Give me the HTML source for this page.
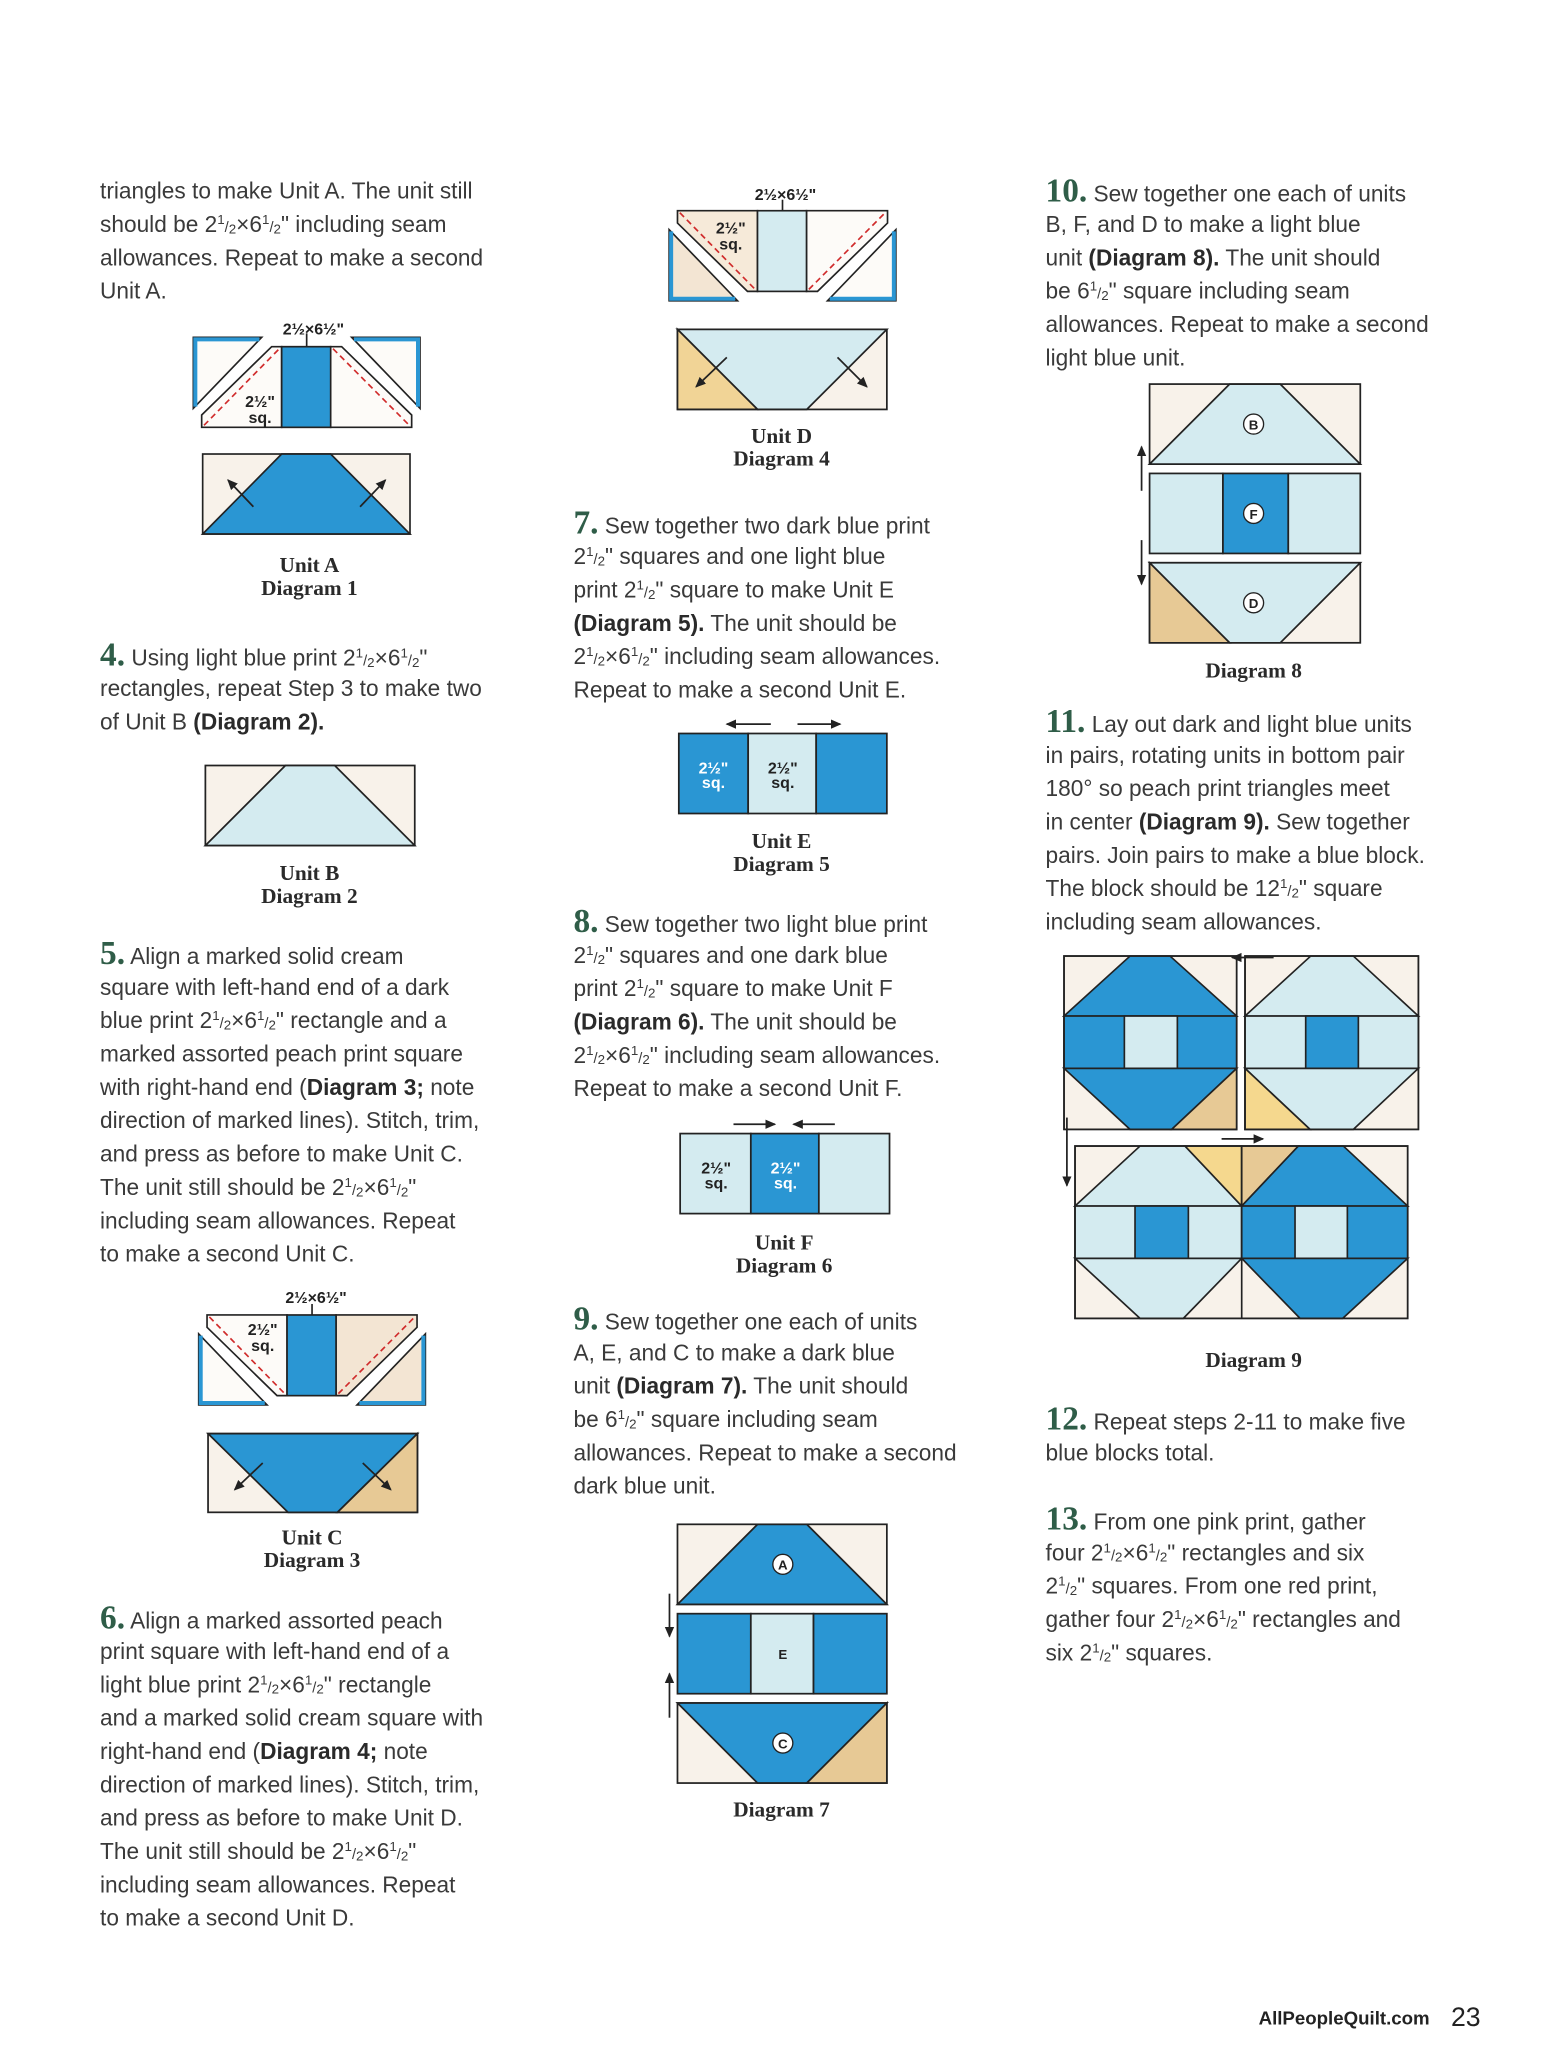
<!DOCTYPE html>
<html><head><meta charset="utf-8">
<style>
html,body{margin:0;padding:0;background:#fff;}
#wrap{position:relative;width:1551px;height:2068px;overflow:hidden;}
#pg{position:absolute;left:0;top:0;width:1163px;height:1551px;transform:scale(1.33362);transform-origin:0 0;}
.l{position:absolute;white-space:nowrap;font-family:"Liberation Sans",sans-serif;font-size:17px;line-height:25px;height:25px;color:#3a3a3a;}
.l b{color:#2a2a2a}
.n{font-family:"Liberation Serif",serif;font-weight:bold;font-size:25px;color:#2f5d48;}
.f{font-size:11px;position:relative;}
.f sup{font-size:10px;vertical-align:0;position:relative;top:-6px}
.f sub{font-size:10px;vertical-align:0;position:relative;top:1px}
svg{position:absolute;left:0;top:0}
.dl{font-family:"Liberation Serif",serif;font-weight:bold;font-size:16px;fill:#2a2a2a;text-anchor:middle}
.dm{font-family:"Liberation Sans",sans-serif;font-weight:bold;font-size:12px;fill:#222;text-anchor:middle}
</style></head><body><div id="wrap"><div id="pg">
<svg width="1163" height="1551" viewBox="0 0 1163 1551">
<defs><marker id="ah" markerWidth="8" markerHeight="8" refX="7" refY="4" orient="auto" markerUnits="userSpaceOnUse"><path d="M0,0.5 L8,4 L0,7.5z" fill="#222"/></marker></defs>
<g stroke="#222" stroke-width="1.3" stroke-linejoin="miter">
<!-- Diagram 1 -->
<g transform="translate(134.97,224.96) scale(0.24995)" stroke-width="5">
<polygon points="40,112 245,112 40,325" fill="#fdfbf8"/>
<polyline points="46,320 46,118 238,118" fill="none" stroke="#2a96d3" stroke-width="12"/>
<polygon points="515,112 720,112 720,325" fill="#fdfbf8"/>
<polyline points="522,118 714,118 714,320" fill="none" stroke="#2a96d3" stroke-width="12"/>
<polygon points="65,382 65,345 275,140 305,140 305,382" fill="#fdfbf8"/>
<polygon points="452,140 485,140 695,345 695,382 452,382" fill="#fdfbf8"/>
<rect x="305" y="140" width="147" height="242" fill="#2a96d3"/>
<line x1="72" y1="376" x2="298" y2="146" stroke="#d02b2b" stroke-dasharray="18,12"/>
<line x1="459" y1="146" x2="688" y2="376" stroke="#d02b2b" stroke-dasharray="18,12"/>
<line x1="380" y1="100" x2="380" y2="140"/>
<rect x="68" y="462" width="622" height="240" fill="#f8f2ea"/>
<polygon points="68,702 305,462 452,462 690,702" fill="#2a96d3"/>
</g>
<line x1="190" y1="380" x2="171" y2="360" marker-end="url(#ah)"/>
<line x1="270" y1="380" x2="289" y2="360" marker-end="url(#ah)"/>
<!-- Diagram 2 -->
<rect x="154" y="574" width="157" height="60" fill="#f8f2ea"/>
<polygon points="154,634 214,574 251,574 311,634" fill="#d4ebf0"/>
<!-- Diagram 3 -->
<g transform="translate(139,1081.5) scale(0.24995,-0.24995)" stroke-width="5">
<polygon points="40,112 245,112 40,325" fill="#fdfbf8"/>
<polyline points="46,320 46,118 238,118" fill="none" stroke="#2a96d3" stroke-width="12"/>
<polygon points="515,112 720,112 720,325" fill="#f3e5d3"/>
<polyline points="522,118 714,118 714,320" fill="none" stroke="#2a96d3" stroke-width="12"/>
<polygon points="65,382 65,345 275,140 305,140 305,382" fill="#fdfbf8"/>
<polygon points="452,140 485,140 695,345 695,382 452,382" fill="#f3e5d3"/>
<rect x="305" y="140" width="147" height="242" fill="#2a96d3"/>
<line x1="72" y1="376" x2="298" y2="146" stroke="#d02b2b" stroke-dasharray="18,12"/>
<line x1="459" y1="146" x2="688" y2="376" stroke="#d02b2b" stroke-dasharray="18,12"/>
<line x1="380" y1="382" x2="380" y2="415"/>
</g>
<rect x="156" y="1075" width="157" height="59" fill="#f8f2ea"/>
<polygon points="156,1075 313,1075 253,1134 216,1134" fill="#2a96d3"/>
<polygon points="253,1134 313,1134 313,1075" fill="#e7c995"/>
<line x1="197" y1="1097" x2="176" y2="1117" marker-end="url(#ah)"/>
<line x1="272" y1="1097" x2="293" y2="1117" marker-end="url(#ah)"/>
<!-- Diagram 4 -->
<g transform="translate(491.75,253.5) scale(0.25,-0.25)" stroke-width="5">
<polygon points="40,112 245,112 40,325" fill="#f3e5d3"/>
<polyline points="46,320 46,118 238,118" fill="none" stroke="#2a96d3" stroke-width="12"/>
<polygon points="515,112 720,112 720,325" fill="#fdfbf8"/>
<polyline points="522,118 714,118 714,320" fill="none" stroke="#2a96d3" stroke-width="12"/>
<polygon points="65,382 65,345 275,140 305,140 305,382" fill="#f6ead9"/>
<polygon points="452,140 485,140 695,345 695,382 452,382" fill="#fdfbf8"/>
<rect x="305" y="140" width="147" height="242" fill="#d4ebf0"/>
<line x1="72" y1="376" x2="298" y2="146" stroke="#d02b2b" stroke-dasharray="18,12"/>
<line x1="459" y1="146" x2="688" y2="376" stroke="#d02b2b" stroke-dasharray="18,12"/>
<line x1="380" y1="382" x2="380" y2="415"/>
</g>
<rect x="508" y="247" width="157" height="60" fill="#f8f2ea"/>
<polygon points="508,247 665,247 605,307 568,307" fill="#d4ebf0"/>
<polygon points="508,307 568,307 508,247" fill="#f1d496"/>
<line x1="545" y1="268" x2="522" y2="290" marker-end="url(#ah)"/>
<line x1="628" y1="268" x2="650" y2="290" marker-end="url(#ah)"/>
<!-- Diagram 5 -->
<line x1="578" y1="543" x2="545" y2="543" marker-end="url(#ah)"/>
<line x1="598" y1="543" x2="630" y2="543" marker-end="url(#ah)"/>
<rect x="509" y="550" width="52" height="60" fill="#2a96d3"/>
<rect x="561" y="550" width="51" height="60" fill="#d4ebf0"/>
<rect x="612" y="550" width="53" height="60" fill="#2a96d3"/>
<!-- Diagram 6 -->
<line x1="550" y1="843" x2="581" y2="843" marker-end="url(#ah)"/>
<line x1="626" y1="843" x2="595" y2="843" marker-end="url(#ah)"/>
<rect x="510" y="850" width="53" height="60" fill="#d4ebf0"/>
<rect x="563" y="850" width="51" height="60" fill="#2a96d3"/>
<rect x="614" y="850" width="53" height="60" fill="#d4ebf0"/>
<!-- Diagram 7 -->
<rect x="508" y="1143" width="157" height="60" fill="#f8f2ea"/>
<polygon points="508,1203 568,1143 605,1143 665,1203" fill="#2a96d3"/>
<rect x="508" y="1210" width="55" height="60" fill="#2a96d3"/>
<rect x="563" y="1210" width="47" height="60" fill="#d4ebf0"/>
<rect x="610" y="1210" width="55" height="60" fill="#2a96d3"/>
<rect x="508" y="1277" width="157" height="60" fill="#f8f2ea"/>
<polygon points="508,1277 665,1277 605,1337 568,1337" fill="#2a96d3"/>
<polygon points="605,1337 665,1337 665,1277" fill="#e7c995"/>
<line x1="502" y1="1195" x2="502" y2="1227" marker-end="url(#ah)"/>
<line x1="502" y1="1288" x2="502" y2="1255" marker-end="url(#ah)"/>
<!-- Diagram 8 -->
<rect x="862" y="288" width="158" height="60" fill="#f8f2ea"/>
<polygon points="862,348 922,288 960,288 1020,348" fill="#d4ebf0"/>
<rect x="862" y="355" width="55" height="60" fill="#d4ebf0"/>
<rect x="917" y="355" width="49" height="60" fill="#2a96d3"/>
<rect x="966" y="355" width="54" height="60" fill="#d4ebf0"/>
<rect x="862" y="422" width="158" height="60" fill="#f8f2ea"/>
<polygon points="862,422 1020,422 960,482 922,482" fill="#d4ebf0"/>
<polygon points="862,482 922,482 862,422" fill="#e7c995"/>
<line x1="856" y1="368" x2="856" y2="335" marker-end="url(#ah)"/>
<line x1="856" y1="405" x2="856" y2="438" marker-end="url(#ah)"/>
<!-- Diagram 9 -->
<g transform="translate(794.85,712.37) scale(0.24995)" stroke-width="5">
<rect x="12" y="18" width="518" height="520" fill="#f8f2ea"/>
<polygon points="12,198 210,18 330,18 530,198" fill="#2a96d3"/>
<rect x="12" y="198" width="518" height="157" fill="#2a96d3"/>
<rect x="193" y="198" width="159" height="157" fill="#d4ebf0"/>
<polygon points="12,355 530,355 335,538 210,538" fill="#2a96d3"/>
<polygon points="335,538 530,538 530,355" fill="#e7c995"/>
<rect x="12" y="18" width="518" height="520" fill="none"/>
<rect x="555" y="18" width="520" height="520" fill="#f8f2ea"/>
<polygon points="555,198 752,18 880,18 1075,198" fill="#d4ebf0"/>
<rect x="555" y="198" width="520" height="157" fill="#d4ebf0"/>
<rect x="737" y="198" width="158" height="157" fill="#2a96d3"/>
<polygon points="555,355 1075,355 880,538 750,538" fill="#d4ebf0"/>
<polygon points="555,355 555,538 750,538" fill="#f5d88e"/>
<rect x="555" y="18" width="520" height="520" fill="none"/>
<rect x="45" y="588" width="998" height="517" fill="#f8f2ea"/>
<polygon points="45,768 240,588 375,588 545,768" fill="#d4ebf0"/>
<polygon points="375,588 545,588 545,768" fill="#f5d88e"/>
<polygon points="545,588 715,588 545,768" fill="#e7c995"/>
<polygon points="545,768 715,588 850,588 1043,768" fill="#2a96d3"/>
<rect x="45" y="768" width="500" height="157" fill="#d4ebf0"/>
<rect x="225" y="768" width="160" height="157" fill="#2a96d3"/>
<rect x="545" y="768" width="498" height="157" fill="#2a96d3"/>
<rect x="705" y="768" width="157" height="157" fill="#d4ebf0"/>
<polygon points="45,925 545,925 370,1105 240,1105" fill="#d4ebf0"/>
<polygon points="545,925 1043,925 848,1105 720,1105" fill="#2a96d3"/>
<line x1="545" y1="588" x2="545" y2="1105"/>
<rect x="45" y="588" width="998" height="517" fill="none"/>
</g>
<line x1="916" y1="854" x2="947" y2="854" marker-end="url(#ah)"/>
<line x1="955" y1="718" x2="924" y2="718" marker-end="url(#ah)"/>
<line x1="800" y1="838" x2="800" y2="889" marker-end="url(#ah)"/>
</g>
<!-- circles -->
<g fill="#fff" stroke="#222" stroke-width="1">
<circle cx="587" cy="1173" r="7.5"/><circle cx="587" cy="1307" r="7.5"/>
<circle cx="940" cy="318" r="7.5"/><circle cx="940" cy="385" r="7.5"/><circle cx="940" cy="452" r="7.5"/>
</g>
<g font-family="Liberation Sans,sans-serif" font-weight="bold" font-size="10" text-anchor="middle" fill="#222">
<text x="587" y="1177">A</text><text x="587" y="1244">E</text><text x="587" y="1311">C</text>
<text x="940" y="322">B</text><text x="940" y="389">F</text><text x="940" y="456">D</text>
</g>
<!-- dim labels -->
<text class="dm" x="235" y="251">2½×6½"</text>
<text class="dm" x="195" y="305">2½"</text><text class="dm" x="195" y="317">sq.</text>
<text class="dm" x="237" y="977">2½×6½"</text>
<text class="dm" x="197" y="1001">2½"</text><text class="dm" x="197" y="1013">sq.</text>
<text class="dm" x="589" y="150">2½×6½"</text>
<text class="dm" x="548" y="175">2½"</text><text class="dm" x="548" y="187">sq.</text>
<text class="dm" x="535" y="580" style="fill:#fff">2½"</text><text class="dm" x="535" y="591" style="fill:#fff">sq.</text>
<text class="dm" x="587" y="580">2½"</text><text class="dm" x="587" y="591">sq.</text>
<text class="dm" x="537" y="880">2½"</text><text class="dm" x="537" y="891">sq.</text>
<text class="dm" x="589" y="880" style="fill:#fff">2½"</text><text class="dm" x="589" y="891" style="fill:#fff">sq.</text>
<!-- diagram labels -->
<text class="dl" x="232" y="429">Unit A</text><text class="dl" x="232" y="446">Diagram 1</text>
<text class="dl" x="232" y="660">Unit B</text><text class="dl" x="232" y="677">Diagram 2</text>
<text class="dl" x="234" y="1158">Unit C</text><text class="dl" x="234" y="1175">Diagram 3</text>
<text class="dl" x="586" y="332">Unit D</text><text class="dl" x="586" y="349">Diagram 4</text>
<text class="dl" x="586" y="636">Unit E</text><text class="dl" x="586" y="653">Diagram 5</text>
<text class="dl" x="588" y="937">Unit F</text><text class="dl" x="588" y="954">Diagram 6</text>
<text class="dl" x="586" y="1362">Diagram 7</text>
<text class="dl" x="940" y="508">Diagram 8</text>
<text class="dl" x="940" y="1025">Diagram 9</text>
<text x="1072" y="1518" text-anchor="end" font-family="Liberation Sans,sans-serif" font-weight="bold" font-size="14" fill="#222">AllPeopleQuilt.com</text>
<text x="1088" y="1519" font-family="Liberation Sans,sans-serif" font-size="20" fill="#222">23</text>
</svg>

<!-- Column 1 -->
<div class="l" style="left:75px;top:131px">triangles to make Unit A. The unit still</div>
<div class="l" style="left:75px;top:156px">should be 2<span class="f"><sup>1</sup>/<sub>2</sub></span>×6<span class="f"><sup>1</sup>/<sub>2</sub></span>" including seam</div>
<div class="l" style="left:75px;top:181px">allowances. Repeat to make a second</div>
<div class="l" style="left:75px;top:206px">Unit A.</div>
<div class="l" style="left:75px;top:479px"><span class="n">4.</span> Using light blue print 2<span class="f"><sup>1</sup>/<sub>2</sub></span>×6<span class="f"><sup>1</sup>/<sub>2</sub></span>"</div>
<div class="l" style="left:75px;top:504px">rectangles, repeat Step 3 to make two</div>
<div class="l" style="left:75px;top:529px">of Unit B <b>(Diagram 2).</b></div>
<div class="l" style="left:75px;top:703px"><span class="n">5.</span> Align a marked solid cream</div>
<div class="l" style="left:75px;top:728px">square with left-hand end of a dark</div>
<div class="l" style="left:75px;top:753px">blue print 2<span class="f"><sup>1</sup>/<sub>2</sub></span>×6<span class="f"><sup>1</sup>/<sub>2</sub></span>" rectangle and a</div>
<div class="l" style="left:75px;top:778px">marked assorted peach print square</div>
<div class="l" style="left:75px;top:803px">with right-hand end (<b>Diagram 3;</b> note</div>
<div class="l" style="left:75px;top:828px">direction of marked lines). Stitch, trim,</div>
<div class="l" style="left:75px;top:853px">and press as before to make Unit C.</div>
<div class="l" style="left:75px;top:878px">The unit still should be 2<span class="f"><sup>1</sup>/<sub>2</sub></span>×6<span class="f"><sup>1</sup>/<sub>2</sub></span>"</div>
<div class="l" style="left:75px;top:903px">including seam allowances. Repeat</div>
<div class="l" style="left:75px;top:928px">to make a second Unit C.</div>
<div class="l" style="left:75px;top:1201px"><span class="n">6.</span> Align a marked assorted peach</div>
<div class="l" style="left:75px;top:1226px">print square with left-hand end of a</div>
<div class="l" style="left:75px;top:1251px">light blue print 2<span class="f"><sup>1</sup>/<sub>2</sub></span>×6<span class="f"><sup>1</sup>/<sub>2</sub></span>" rectangle</div>
<div class="l" style="left:75px;top:1276px">and a marked solid cream square with</div>
<div class="l" style="left:75px;top:1301px">right-hand end (<b>Diagram 4;</b> note</div>
<div class="l" style="left:75px;top:1326px">direction of marked lines). Stitch, trim,</div>
<div class="l" style="left:75px;top:1351px">and press as before to make Unit D.</div>
<div class="l" style="left:75px;top:1376px">The unit still should be 2<span class="f"><sup>1</sup>/<sub>2</sub></span>×6<span class="f"><sup>1</sup>/<sub>2</sub></span>"</div>
<div class="l" style="left:75px;top:1401px">including seam allowances. Repeat</div>
<div class="l" style="left:75px;top:1426px">to make a second Unit D.</div>

<!-- Column 2 -->
<div class="l" style="left:430px;top:380px"><span class="n">7.</span> Sew together two dark blue print</div>
<div class="l" style="left:430px;top:405px">2<span class="f"><sup>1</sup>/<sub>2</sub></span>" squares and one light blue</div>
<div class="l" style="left:430px;top:430px">print 2<span class="f"><sup>1</sup>/<sub>2</sub></span>" square to make Unit E</div>
<div class="l" style="left:430px;top:455px"><b>(Diagram 5).</b> The unit should be</div>
<div class="l" style="left:430px;top:480px">2<span class="f"><sup>1</sup>/<sub>2</sub></span>×6<span class="f"><sup>1</sup>/<sub>2</sub></span>" including seam allowances.</div>
<div class="l" style="left:430px;top:505px">Repeat to make a second Unit E.</div>
<div class="l" style="left:430px;top:679px"><span class="n">8.</span> Sew together two light blue print</div>
<div class="l" style="left:430px;top:704px">2<span class="f"><sup>1</sup>/<sub>2</sub></span>" squares and one dark blue</div>
<div class="l" style="left:430px;top:729px">print 2<span class="f"><sup>1</sup>/<sub>2</sub></span>" square to make Unit F</div>
<div class="l" style="left:430px;top:754px"><b>(Diagram 6).</b> The unit should be</div>
<div class="l" style="left:430px;top:779px">2<span class="f"><sup>1</sup>/<sub>2</sub></span>×6<span class="f"><sup>1</sup>/<sub>2</sub></span>" including seam allowances.</div>
<div class="l" style="left:430px;top:804px">Repeat to make a second Unit F.</div>
<div class="l" style="left:430px;top:977px"><span class="n">9.</span> Sew together one each of units</div>
<div class="l" style="left:430px;top:1002px">A, E, and C to make a dark blue</div>
<div class="l" style="left:430px;top:1027px">unit <b>(Diagram 7).</b> The unit should</div>
<div class="l" style="left:430px;top:1052px">be 6<span class="f"><sup>1</sup>/<sub>2</sub></span>" square including seam</div>
<div class="l" style="left:430px;top:1077px">allowances. Repeat to make a second</div>
<div class="l" style="left:430px;top:1102px">dark blue unit.</div>

<!-- Column 3 -->
<div class="l" style="left:784px;top:131px"><span class="n">10.</span> Sew together one each of units</div>
<div class="l" style="left:784px;top:156px">B, F, and D to make a light blue</div>
<div class="l" style="left:784px;top:181px">unit <b>(Diagram 8).</b> The unit should</div>
<div class="l" style="left:784px;top:206px">be 6<span class="f"><sup>1</sup>/<sub>2</sub></span>" square including seam</div>
<div class="l" style="left:784px;top:231px">allowances. Repeat to make a second</div>
<div class="l" style="left:784px;top:256px">light blue unit.</div>
<div class="l" style="left:784px;top:529px"><span class="n">11.</span> Lay out dark and light blue units</div>
<div class="l" style="left:784px;top:554px">in pairs, rotating units in bottom pair</div>
<div class="l" style="left:784px;top:579px">180° so peach print triangles meet</div>
<div class="l" style="left:784px;top:604px">in center <b>(Diagram 9).</b> Sew together</div>
<div class="l" style="left:784px;top:629px">pairs. Join pairs to make a blue block.</div>
<div class="l" style="left:784px;top:654px">The block should be 12<span class="f"><sup>1</sup>/<sub>2</sub></span>" square</div>
<div class="l" style="left:784px;top:679px">including seam allowances.</div>
<div class="l" style="left:784px;top:1052px"><span class="n">12.</span> Repeat steps 2-11 to make five</div>
<div class="l" style="left:784px;top:1077px">blue blocks total.</div>
<div class="l" style="left:784px;top:1127px"><span class="n">13.</span> From one pink print, gather</div>
<div class="l" style="left:784px;top:1152px">four 2<span class="f"><sup>1</sup>/<sub>2</sub></span>×6<span class="f"><sup>1</sup>/<sub>2</sub></span>" rectangles and six</div>
<div class="l" style="left:784px;top:1177px">2<span class="f"><sup>1</sup>/<sub>2</sub></span>" squares. From one red print,</div>
<div class="l" style="left:784px;top:1202px">gather four 2<span class="f"><sup>1</sup>/<sub>2</sub></span>×6<span class="f"><sup>1</sup>/<sub>2</sub></span>" rectangles and</div>
<div class="l" style="left:784px;top:1227px">six 2<span class="f"><sup>1</sup>/<sub>2</sub></span>" squares.</div>
</div></div></body></html>
